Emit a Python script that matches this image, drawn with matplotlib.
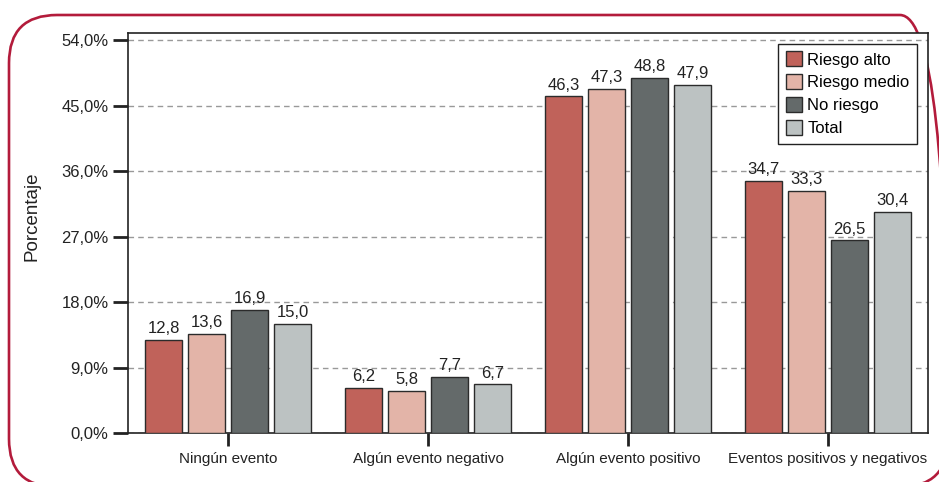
# Gráfico de barras agrupadas: eventos por nivel de riesgo
import numpy as np
import matplotlib
matplotlib.use("Agg")
import matplotlib.pyplot as plt
from matplotlib.patches import FancyBboxPatch

plt.rcParams["font.family"] = ["Liberation Sans", "DejaVu Sans"]

# Datos
categorias = ["Ningún evento", "Algún evento negativo",
              "Algún evento positivo", "Eventos positivos y negativos"]
series = ["Riesgo alto", "Riesgo medio", "No riesgo", "Total"]
riesgo_alto = [12.8, 6.2, 46.3, 34.7]
riesgo_medio = [13.6, 5.8, 47.3, 33.3]
no_riesgo = [16.9, 7.7, 48.8, 26.5]
total = [15.0, 6.7, 47.9, 30.4]
yticks = [0, 9, 18, 27, 36, 45, 54]

colores = ["#C0625A", "#E3B4A8", "#646A6A", "#BCC2C2"]
valores = [riesgo_alto, riesgo_medio, no_riesgo, total]

W, H = 939, 482
fig = plt.figure(figsize=(W / 100, H / 100), dpi=100)

# Marco rojo redondeado (capa en pixeles, y hacia arriba)
fondo = fig.add_axes([0, 0, 1, 1], zorder=-1)
fondo.set_xlim(0, W)
fondo.set_ylim(0, H)
fondo.axis("off")
marco = FancyBboxPatch((9, H - 487), 939, 472,
                       boxstyle="round,pad=0,rounding_size=48",
                       facecolor="none", edgecolor="#B31B3B",
                       linewidth=1.9, clip_on=False)
fondo.add_patch(marco)

ax = fig.add_axes([128 / W, 1 - 433 / H, 800 / W, 400 / H])

x = np.arange(len(categorias))
paso = 0.215
ancho = 0.185
for i, (nombre, vals, col) in enumerate(zip(series, valores, colores)):
    pos = x + (i - 1.5) * paso
    ax.bar(pos, vals, width=ancho, color=col, edgecolor="#2b2b2b",
           linewidth=1.0, label=nombre, zorder=3)
    for xb, v in zip(pos, vals):
        ax.text(xb, v + 0.5, f"{v:.1f}".replace(".", ","), ha="center",
                va="bottom", fontsize=12, color="#222222", zorder=4)

ax.set_xlim(-0.5, 3.5)
ax.set_ylim(0, 55)
ax.set_yticks(yticks)
ax.set_yticklabels([f"{t:.1f}%".replace(".", ",") for t in yticks])
ax.set_xticks(x)
ax.set_xticklabels(categorias)
ax.tick_params(axis="y", direction="out", length=11, width=2, labelsize=12,
               colors="#222222", pad=3)
ax.tick_params(axis="x", direction="out", length=9, width=2, labelsize=11,
               colors="#222222", pad=5)
ax.yaxis.grid(True, linestyle=(0, (4, 3)), color="#999999", linewidth=1, zorder=0)
for s in ax.spines.values():
    s.set_linewidth(1.2)
    s.set_color("#222222")

fig.text(32 / W, 1 - 216 / H, "Porcentaje", rotation=90, fontsize=13.5,
         color="#222222", ha="center", va="center")

leg = ax.legend(loc="upper right", bbox_to_anchor=(1 - 11 / 800, 1 - 11 / 400),
                borderaxespad=0, fontsize=12, fancybox=False, framealpha=1,
                edgecolor="#222222", handlelength=1.0, handleheight=1.0,
                handletextpad=0.3, borderpad=0.45, labelspacing=0.4)
leg.get_frame().set_linewidth(1.0)
leg.set_zorder(5)

fig.savefig("out.png", dpi=100)
